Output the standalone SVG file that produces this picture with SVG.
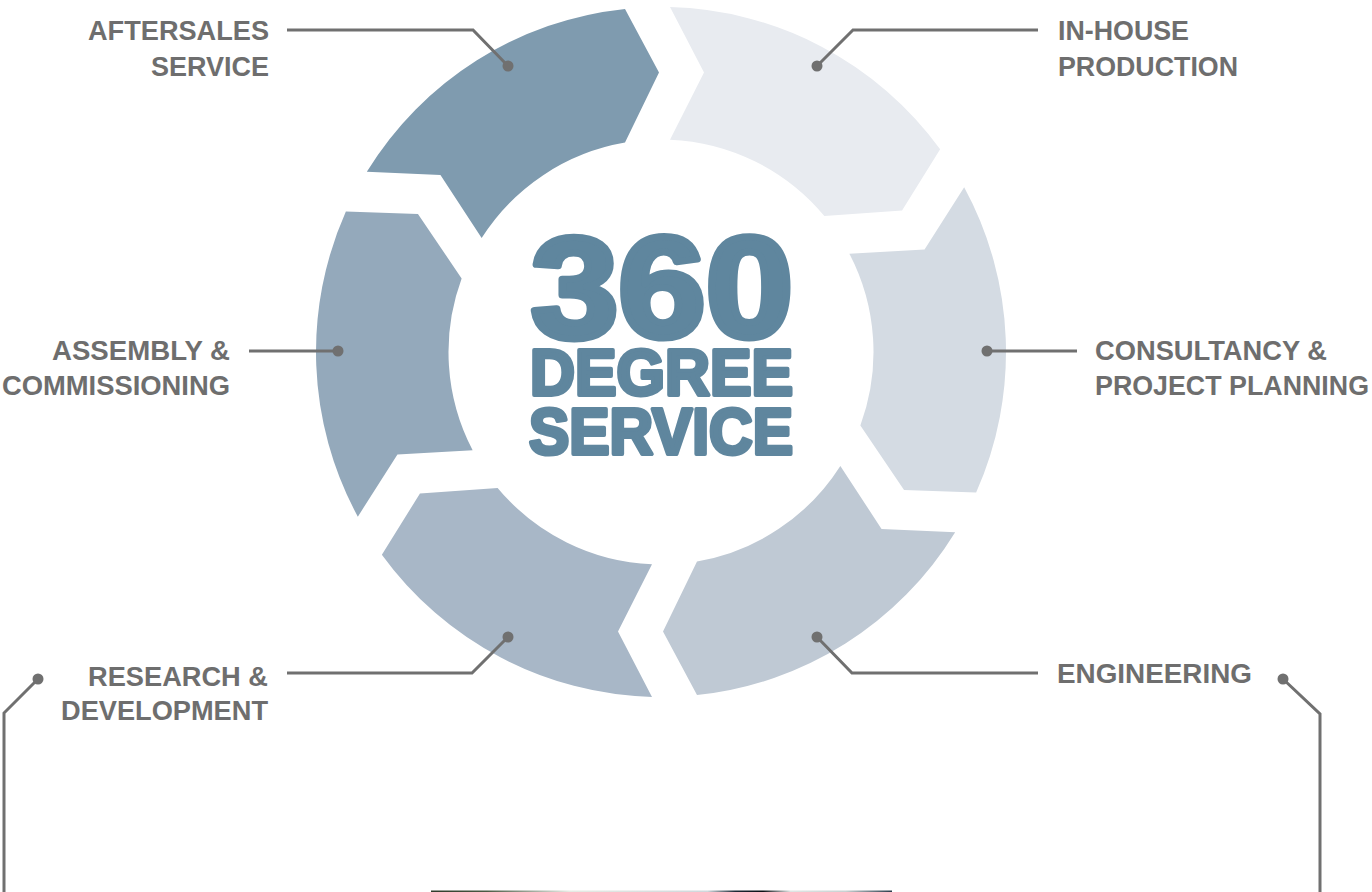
<svg xmlns="http://www.w3.org/2000/svg" width="1372" height="892" viewBox="0 0 1372 892">
<defs>
<style>
.lbl{font-family:"Liberation Sans",Arial,sans-serif;font-weight:bold;font-size:27px;fill:#6e6e6e}
.ctr{font-family:"Liberation Sans",Arial,sans-serif;font-weight:bold;fill:#5f869e;stroke:#5f869e;stroke-linejoin:round}
.lead{fill:none;stroke:#707070;stroke-width:3}
.dot{fill:#707070}
</style>
<linearGradient id="strip" x1="0" y1="0" x2="1" y2="0">
<stop offset="0" stop-color="#2e3a2a"/>
<stop offset="0.12" stop-color="#4a5a44"/>
<stop offset="0.3" stop-color="#e6ebe4"/>
<stop offset="0.6" stop-color="#cfd8dc"/>
<stop offset="0.66" stop-color="#1d2a36"/>
<stop offset="0.72" stop-color="#0b0f14"/>
<stop offset="0.78" stop-color="#dfe6e4"/>
<stop offset="0.9" stop-color="#c8d2d2"/>
<stop offset="1" stop-color="#2a3a4a"/>
</linearGradient>
</defs>
<rect width="1372" height="892" fill="#ffffff"/>

<g id="seg-aftersales"><path fill="#7f9baf" d="M366.83,171.77 A345,345 0 0 1 625,8.88 L659,72.5 L625,142.57 A212.5,212.5 0 0 0 481.64,238.05 L440.45,175.01 Z"/></g>
<g id="seg-inhouse"><path fill="#e8ebf0" d="M670,7.12 A345,345 0 0 1 940.14,149.26 L902.05,210.52 L824.37,216.10 A212.5,212.5 0 0 0 670,139.69 L704,72.5 Z"/></g>
<g id="seg-consultancy"><path fill="#d4dbe3" d="M964.17,187.35 A345,345 0 0 1 976.14,492.38 L904.05,490.02 L860.37,425.54 A212.5,212.5 0 0 0 849.36,253.63 L924.55,249.49 Z"/></g>
<g id="seg-engineering"><path fill="#bfc9d4" d="M955.17,532.23 A345,345 0 0 1 697,695.12 L663,631.5 L697,561.43 A212.5,212.5 0 0 0 840.36,465.95 L881.55,528.99 Z"/></g>
<g id="seg-research"><path fill="#a8b7c7" d="M652,696.88 A345,345 0 0 1 381.86,554.74 L419.95,493.48 L497.63,487.90 A212.5,212.5 0 0 0 652,564.31 L618,631.5 Z"/></g>
<g id="seg-assembly"><path fill="#94a9bb" d="M357.83,516.65 A345,345 0 0 1 345.86,211.62 L417.95,213.98 L461.63,278.46 A212.5,212.5 0 0 0 472.64,450.37 L397.45,454.51 Z"/></g>

<g id="center-title">
<text class="ctr" x="531" y="337" font-size="142" stroke-width="7" textLength="262" lengthAdjust="spacingAndGlyphs">360</text>
<text class="ctr" x="530" y="395" font-size="64" stroke-width="4" textLength="263" lengthAdjust="spacingAndGlyphs">DEGREE</text>
<text class="ctr" x="529" y="454" font-size="64" stroke-width="4" textLength="264" lengthAdjust="spacingAndGlyphs">SERVICE</text>
</g>

<g id="connectors">
<polyline class="lead" points="287,30 473,30 508,66"/>
<circle class="dot" cx="508" cy="66" r="5.5"/>
<polyline class="lead" points="1038,30 853,30 817,66"/>
<circle class="dot" cx="817" cy="66" r="5.5"/>
<line class="lead" x1="249" y1="351" x2="338" y2="351"/>
<circle class="dot" cx="338" cy="351" r="5.5"/>
<line class="lead" x1="987" y1="351" x2="1077" y2="351"/>
<circle class="dot" cx="987" cy="351" r="5.5"/>
<polyline class="lead" points="287,673 472,673 508,637"/>
<circle class="dot" cx="508" cy="637" r="5.5"/>
<polyline class="lead" points="1038,673 852,673 817,637"/>
<circle class="dot" cx="817" cy="637" r="5.5"/>
<polyline class="lead" points="38,679 4,713 4,892"/>
<circle class="dot" cx="38" cy="679" r="5.5"/>
<polyline class="lead" points="1283,679 1320,714 1320,892"/>
<circle class="dot" cx="1283" cy="679" r="5.5"/>
</g>

<g id="label-aftersales">
<text class="lbl" x="88" y="40" textLength="181" lengthAdjust="spacingAndGlyphs">AFTERSALES</text>
<text class="lbl" x="151" y="76" textLength="118" lengthAdjust="spacingAndGlyphs">SERVICE</text>
</g>
<g id="label-inhouse">
<text class="lbl" x="1058" y="40" textLength="131" lengthAdjust="spacingAndGlyphs">IN-HOUSE</text>
<text class="lbl" x="1058" y="76" textLength="180" lengthAdjust="spacingAndGlyphs">PRODUCTION</text>
</g>
<g id="label-assembly">
<text class="lbl" x="52" y="360" textLength="178" lengthAdjust="spacingAndGlyphs">ASSEMBLY &amp;</text>
<text class="lbl" x="2" y="395" textLength="228" lengthAdjust="spacingAndGlyphs">COMMISSIONING</text>
</g>
<g id="label-consultancy">
<text class="lbl" x="1095" y="360" textLength="232" lengthAdjust="spacingAndGlyphs">CONSULTANCY &amp;</text>
<text class="lbl" x="1095" y="395" textLength="274" lengthAdjust="spacingAndGlyphs">PROJECT PLANNING</text>
</g>
<g id="label-research">
<text class="lbl" x="88" y="686" textLength="180" lengthAdjust="spacingAndGlyphs">RESEARCH &amp;</text>
<text class="lbl" x="61" y="720" textLength="207" lengthAdjust="spacingAndGlyphs">DEVELOPMENT</text>
</g>
<g id="label-engineering">
<text class="lbl" x="1057" y="683" textLength="195" lengthAdjust="spacingAndGlyphs">ENGINEERING</text>
</g>

<rect x="431" y="890.5" width="461" height="1.5" fill="url(#strip)"/>
</svg>
